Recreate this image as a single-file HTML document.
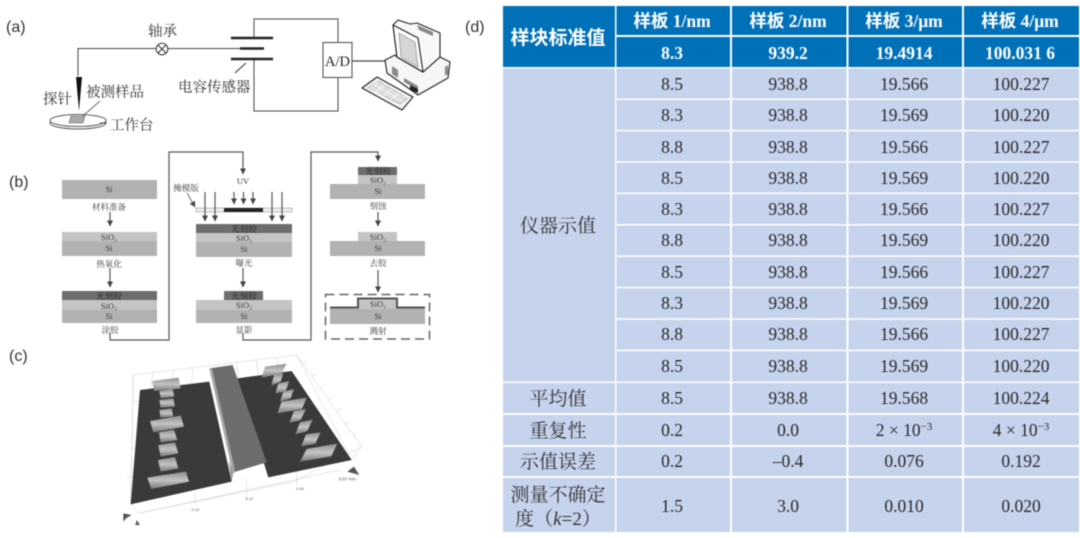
<!DOCTYPE html>
<html><head><meta charset="utf-8"><style>
html,body{margin:0;padding:0;background:#fff;width:1080px;height:538px;overflow:hidden}
svg{position:absolute;left:0;top:0;display:block}
.s{font-family:"Noto Serif CJK SC","Liberation Serif",serif}
.sm{font-family:"Liberation Serif","Noto Serif CJK SC",serif;font-size:8.5px;fill:#3a3a3a;text-anchor:middle}
.lb{font-family:"Liberation Sans",sans-serif;font-size:16px;fill:#333}
.n{font-family:"Liberation Serif","Noto Serif CJK SC",serif;font-size:17.5px;fill:#2a2a2a;text-anchor:middle}
.c{font-family:"Liberation Serif","Noto Serif CJK SC",serif;font-size:19px;fill:#333;text-anchor:middle}
.h{font-family:"Liberation Serif","Noto Sans CJK SC",sans-serif;font-size:17.5px;font-weight:bold;fill:#fff;text-anchor:middle}
.w{fill:none;stroke:#444;stroke-width:1}
.b{fill:none;stroke:#555;stroke-width:1.2}
.si{fill:#b2b2b2}.ox{fill:#c4c4c4}.pr{fill:#6d6d6d}
</style></head><body>
<svg width="1080" height="538" viewBox="0 0 1080 538" xmlns="http://www.w3.org/2000/svg" style="filter:blur(.65px)">
<defs>
<marker id="ar" viewBox="0 0 6 6" refX="5.5" refY="3" markerWidth="6" markerHeight="6" orient="auto" markerUnits="userSpaceOnUse"><path d="M0 0L6 3L0 6Z" fill="#444"/></marker>
<linearGradient id="g" x1="0" y1="0" x2="0" y2="1"><stop offset="0" stop-color="#8f8f8f"/><stop offset=".5" stop-color="#c4c4c4"/><stop offset="1" stop-color="#777"/></linearGradient>
</defs>

<!-- labels -->
<text class="lb" x="6" y="32">(a)</text>
<text class="lb" x="9" y="187">(b)</text>
<text class="lb" x="9" y="361">(c)</text>
<text class="lb" x="465" y="32">(d)</text>

<!-- (a) circuit -->
<path class="w" d="M78 76V48.500H156M168 48.500H240M254 38V19H338V42M338 77V111H254V59"/>
<circle cx="162" cy="49" r="5.800" fill="#fff" stroke="#333"/>
<path d="M158 45L166 53M166 45L158 53" stroke="#333"/>
<path d="M231 38H273M240 48.500H264M231 59H273" stroke="#222" stroke-width="2.500"/>
<path d="M235 73L246 63" stroke="#333"/>
<rect x="323" y="42.500" width="29" height="35" fill="#fff" stroke="#444"/>
<text class="s" x="337.500" y="66" font-size="14.500" fill="#222" text-anchor="middle" style="font-family:'Liberation Serif',serif">A/D</text>
<path d="M352 61H387" stroke="#444" stroke-width="1.200"/>
<path d="M76 77H82L79 111Z" fill="#111"/>
<ellipse cx="78" cy="123" rx="28" ry="6" fill="#fff" stroke="#555"/>
<ellipse cx="78" cy="120.500" rx="28" ry="6" fill="#fff" stroke="#555"/>
<path d="M71 116H85L83 123H69Z" fill="#aaa" stroke="#666" stroke-width=".6"/>
<path d="M83 116L100 101" stroke="#333" stroke-width=".8"/>
<path d="M100 123H106" stroke="#333" stroke-width=".8"/>
<text class="s" x="148" y="36" font-size="14.500" fill="#333">轴承</text>
<text class="s" x="43" y="104" font-size="14.500" fill="#333">探针</text>
<text class="s" x="86" y="97" font-size="14.500" fill="#333">被测样品</text>
<text class="s" x="110" y="130" font-size="14.500" fill="#333">工作台</text>
<text class="s" x="178" y="92" font-size="14.500" fill="#333">电容传感器</text>

<!-- computer -->
<g stroke="#222" stroke-width="1.100" stroke-linejoin="round">
<path d="M385 60L395 55L397 57L423 72L440 57L450 62L448 78L418 95L387 73Z" fill="#f6f6f6"/>
<path d="M393 25L398 20L410 24L417 23L440 33L440 57L423 72L397 57Z" fill="#f8f8f8"/>
<path d="M393 25L418 38L423 72L397 57Z" fill="#fff"/>
<path d="M399 33L415 42L418 67L401 57Z" fill="#d6d6d6" stroke="#888" stroke-width=".7"/>
<path d="M417 25L433 32L433 36L419 30Z" fill="#888" stroke="none"/>
<path d="M392 66L398 70V78L392 74Z M404 78L418 86V90L404 82Z" fill="#888" stroke="none"/>
<path d="M410 85L418 89V93L410 90Z" fill="#222" stroke="none"/>
<path d="M445 67L448 65V74L445 76Z" fill="#888" stroke="none"/>
<path d="M362 88L377 77L413 97L402 110Z" fill="#f2f2f2"/>
<path d="M368 88L378 81L408 98L400 104Z" fill="#dedede" stroke="#999" stroke-width=".6"/>
<path d="M374 84L403 102M380 80L408 98M371 89L398 105M378 81L368 90M385 85L375 93M392 89L382 97M399 93L389 101" fill="none" stroke="#fff" stroke-width=".7"/>
</g>

<!-- (b) blocks -->
<g>
<rect class="si" x="62" y="180" width="95" height="19"/>
<rect class="si" x="62" y="241" width="95" height="15"/><rect class="ox" x="62" y="232" width="95" height="9"/>
<rect class="pr" x="62" y="291" width="95" height="9"/><rect class="ox" x="62" y="300" width="95" height="10"/><rect class="si" x="62" y="310" width="95" height="13"/>

<rect class="pr" x="196" y="224" width="96" height="9"/><rect class="ox" x="196" y="233" width="96" height="9"/><rect class="si" x="196" y="242" width="96" height="15"/>
<rect class="pr" x="224" y="291" width="39" height="9"/><rect class="ox" x="196" y="300" width="96" height="10"/><rect class="si" x="196" y="310" width="96" height="13"/>

<rect class="pr" x="358" y="167" width="39" height="8"/><rect class="ox" x="358" y="175" width="39" height="9"/><rect class="si" x="330" y="184" width="95" height="15"/>
<rect class="ox" x="358" y="232" width="39" height="9"/><rect class="si" x="330" y="241" width="95" height="15"/>
<rect class="si" x="330" y="308" width="95" height="16"/><rect class="ox" x="358" y="298" width="39" height="11"/>
<path d="M330 307.500H358V298.500H397V307.500H425" fill="none" stroke="#555" stroke-width="2"/>
<rect x="325.500" y="294.500" width="104" height="44.500" fill="none" stroke="#666" stroke-width="1.500" stroke-dasharray="9 5"/>

<rect x="196" y="208" width="96" height="4" fill="#eee" stroke="#999" stroke-width=".6"/>
<rect x="224" y="208" width="39" height="4" fill="#222"/>
</g>
<g>
<path class="b" d="M110 212V226" marker-end="url(#ar)"/>
<path class="b" d="M110 268V287" marker-end="url(#ar)"/>
<path class="b" d="M243 268V287" marker-end="url(#ar)"/>
<path class="b" d="M378 212V226" marker-end="url(#ar)"/>
<path class="b" d="M378 270V292" marker-end="url(#ar)"/>
<path class="b" d="M110 333V340H169V152H243V174" marker-end="url(#ar)"/>
<path class="b" d="M243 333V340H311V152H378V161" marker-end="url(#ar)"/>
<path class="b" d="M205 192V221" marker-end="url(#ar)"/>
<path class="b" d="M215 192V221" marker-end="url(#ar)"/>
<path class="b" d="M272 192V221" marker-end="url(#ar)"/>
<path class="b" d="M282 192V221" marker-end="url(#ar)"/>
<path class="b" d="M234 192V204" marker-end="url(#ar)"/>
<path class="b" d="M243.500 192V204" marker-end="url(#ar)"/>
<path class="b" d="M253 192V204" marker-end="url(#ar)"/>
<path class="b" style="stroke-width:.8" d="M187 193L195 207" marker-end="url(#ar)"/>
</g>
<text class="sm" x="109" y="192">Si</text>
<text class="sm" x="109" y="210">材料准备</text>
<text class="sm" x="109" y="240">SiO₂</text><text class="sm" x="109" y="251">Si</text>
<text class="sm" x="109" y="267">热氧化</text>
<text class="sm" x="109" y="299" style="fill:#222">光刻胶</text><text class="sm" x="109" y="309">SiO₂</text><text class="sm" x="109" y="319">Si</text>
<text class="sm" x="110" y="333">涂胶</text>
<text class="sm" x="186" y="191">掩模版</text>
<text class="sm" x="243" y="184">UV</text>
<text class="sm" x="244" y="232" style="fill:#222">光刻胶</text><text class="sm" x="244" y="241">SiO₂</text><text class="sm" x="244" y="252">Si</text>
<text class="sm" x="244" y="266">曝光</text>
<text class="sm" x="244" y="299" style="fill:#222">光刻胶</text><text class="sm" x="244" y="308">SiO₂</text><text class="sm" x="244" y="319">Si</text>
<text class="sm" x="244" y="333">显影</text>
<text class="sm" x="378" y="174" style="fill:#222">光刻胶</text><text class="sm" x="378" y="183">SiO₂</text><text class="sm" x="378" y="194">Si</text>
<text class="sm" x="378" y="209">刻蚀</text>
<text class="sm" x="378" y="240">SiO₂</text><text class="sm" x="378" y="251">Si</text>
<text class="sm" x="378" y="266">去胶</text>
<text class="sm" x="378" y="307">SiO₂</text><text class="sm" x="378" y="319">Si</text>
<text class="sm" x="378" y="334">溅射</text>

<!-- (c) 3D -->
<g transform="translate(90 345) scale(.3333)">
<g stroke="#ccc" stroke-width="1.500" fill="none">
<path d="M130 90L620 30L815 305L610 410L145 505L122 478Z"/>
<path d="M130 90L122 478M620 30L785 345M815 305L785 345"/>
<path d="M190 82L180 130M250 75L245 120M310 68L305 115M560 38L570 80M500 45L505 90M440 52L445 95"/>
<path d="M640 60L650 50M665 95L680 85M690 130L705 120M715 165L730 155M740 200L755 190M765 240L780 230M790 275L800 265"/>
<path d="M315 440L315 480M470 400L470 465M620 370L620 420M125 170L150 170M120 310L140 310M110 395L130 395"/>
<path d="M145 505L750 375"/>
</g>
<path d="M150 135L358 110L425 410L122 478Z" fill="#3a3a3a"/>
<path d="M442 100L605 78L785 345L535 397L525 365Z" fill="#3a3a3a"/>
<path d="M358 70L428 60L530 352L430 382Z" fill="#6d6d6d"/>
<path d="M358 70L366 70L436 382L428 384Z" fill="#a8a8a8"/>
<path d="M415 345L430 382L425 410Z" fill="#999"/>
<g fill="url(#g)">
<path d="M186 108L266 98L272 130L192 138Z"/>
<path d="M208 138L248 132L253 155L212 160Z"/>
<path d="M208 165L250 160L255 185L212 188Z"/>
<path d="M208 195L245 190L250 215L212 218Z"/>
<path d="M180 228L272 212L282 245L190 262Z"/>
<path d="M207 262L252 254L262 285L212 292Z"/>
<path d="M205 300L255 292L265 325L212 335Z"/>
<path d="M204 345L255 336L265 370L212 380Z"/>
<path d="M172 398L288 380L297 410L184 432Z"/>
<path d="M525 65L590 56L575 85L515 98Z"/>
<path d="M552 90L580 85L572 110L544 122Z"/>
<path d="M565 115L598 108L587 138L556 146Z"/>
<path d="M580 140L612 132L602 160L570 170Z"/>
<path d="M575 170L650 158L636 192L562 205Z"/>
<path d="M612 198L648 192L632 225L598 234Z"/>
<path d="M630 232L668 224L652 258L616 268Z"/>
<path d="M648 268L692 262L676 296L634 304Z"/>
<path d="M650 312L742 296L724 334L630 350Z"/>
</g>
<path d="M100 505L125 510L108 520L100 530ZM140 525L150 540H136Z" fill="#555"/>
<path d="M772 380L792 365L808 390Z" fill="#555"/>
<text x="772" y="406" font-size="13" fill="#555" font-family="Liberation Sans,sans-serif" text-anchor="middle">0.67 mm</text>
<text x="630" y="435" font-size="12" fill="#666" font-family="Liberation Sans,sans-serif" text-anchor="middle">0.48</text>
<text x="478" y="465" font-size="12" fill="#666" font-family="Liberation Sans,sans-serif" text-anchor="middle">0.32</text>
<text x="316" y="498" font-size="12" fill="#666" font-family="Liberation Sans,sans-serif" text-anchor="middle">0.16</text>
</g>
</svg>

<svg width="1080" height="538" viewBox="0 0 1080 538" xmlns="http://www.w3.org/2000/svg" style="filter:blur(.45px)">
<!-- (d) table -->
<g fill="#0070b8">
<rect x="503" y="6" width="112" height="61"/>
<rect x="616.500" y="6" width="113.500" height="29"/><rect x="732" y="6" width="114.500" height="29"/><rect x="848.500" y="6" width="113.500" height="29"/><rect x="964" y="6" width="115" height="29"/>
<rect x="616.500" y="37" width="113.500" height="30"/><rect x="732" y="37" width="114.500" height="30"/><rect x="848.500" y="37" width="113.500" height="30"/><rect x="964" y="37" width="115" height="30"/>
</g>
<g fill="#c5d3ec">
<rect x="503" y="68.500" width="112" height="313"/>
<rect x="503" y="383" width="112" height="30"/><rect x="503" y="415" width="112" height="30"/><rect x="503" y="447" width="112" height="29"/><rect x="503" y="478" width="112" height="54"/>
</g>
<path d="M616.500 68.500h113.500v313h-113.500zM732 68.500h114.500v313H732zM848.500 68.500h113.500v313H848.500zM964 68.500h115v313H964z" fill="#c5d3ec"/>
<path d="M616.500 383h113.500v30h-113.500zM732 383h114.500v30H732zM848.500 383h113.500v30H848.500zM964 383h115v30H964zM616.500 415h113.500v30h-113.500zM732 415h114.500v30H732zM848.500 415h113.500v30H848.500zM964 415h115v30H964zM616.500 447h113.500v29h-113.500zM732 447h114.500v29H732zM848.500 447h113.500v29H848.500zM964 447h115v29H964zM616.500 478h113.500v54h-113.500zM732 478h114.500v54H732zM848.500 478h113.500v54H848.500zM964 478h115v54H964z" fill="#c5d3ec"/>
<path d="M616 99.200H1079M616 130.600H1079M616 162H1079M616 193.400H1079M616 224.800H1079M616 256.200H1079M616 287.600H1079M616 319H1079M616 350.400H1079" stroke="#fff" stroke-width="1.600"/>

<text x="558" y="44" class="h" style="font-family:'Noto Sans CJK SC',sans-serif;font-size:19px">样块标准值</text>
<text x="672" y="27" class="h">样板 1/nm</text><text x="788" y="27" class="h">样板 2/nm</text><text x="904" y="27" class="h">样板 3/μm</text><text x="1020" y="27" class="h">样板 4/μm</text>
<text x="672" y="59" class="h">8.3</text><text x="788" y="59" class="h">939.2</text><text x="904" y="59" class="h">19.4914</text><text x="1020" y="59" class="h">100.031 6</text>

<text x="558" y="232" class="c">仪器示值</text>
<g>
<text x="672" y="90" class="n">8.5</text><text x="788" y="90" class="n">938.8</text><text x="904" y="90" class="n">19.566</text><text x="1021" y="90" class="n">100.227</text>
<text x="672" y="121" class="n">8.3</text><text x="788" y="121" class="n">938.8</text><text x="904" y="121" class="n">19.569</text><text x="1021" y="121" class="n">100.220</text>
<text x="672" y="153" class="n">8.8</text><text x="788" y="153" class="n">938.8</text><text x="904" y="153" class="n">19.566</text><text x="1021" y="153" class="n">100.227</text>
<text x="672" y="184" class="n">8.5</text><text x="788" y="184" class="n">938.8</text><text x="904" y="184" class="n">19.569</text><text x="1021" y="184" class="n">100.220</text>
<text x="672" y="215" class="n">8.3</text><text x="788" y="215" class="n">938.8</text><text x="904" y="215" class="n">19.566</text><text x="1021" y="215" class="n">100.227</text>
<text x="672" y="246" class="n">8.8</text><text x="788" y="246" class="n">938.8</text><text x="904" y="246" class="n">19.569</text><text x="1021" y="246" class="n">100.220</text>
<text x="672" y="278" class="n">8.5</text><text x="788" y="278" class="n">938.8</text><text x="904" y="278" class="n">19.566</text><text x="1021" y="278" class="n">100.227</text>
<text x="672" y="309" class="n">8.3</text><text x="788" y="309" class="n">938.8</text><text x="904" y="309" class="n">19.569</text><text x="1021" y="309" class="n">100.220</text>
<text x="672" y="340" class="n">8.8</text><text x="788" y="340" class="n">938.8</text><text x="904" y="340" class="n">19.566</text><text x="1021" y="340" class="n">100.227</text>
<text x="672" y="372" class="n">8.5</text><text x="788" y="372" class="n">938.8</text><text x="904" y="372" class="n">19.569</text><text x="1021" y="372" class="n">100.220</text>
<text x="558" y="405" class="c">平均值</text><text x="672" y="404" class="n">8.5</text><text x="788" y="404" class="n">938.8</text><text x="904" y="404" class="n">19.568</text><text x="1021" y="404" class="n">100.224</text>
<text x="558" y="437" class="c">重复性</text><text x="672" y="436" class="n">0.2</text><text x="788" y="436" class="n">0.0</text><text x="904" y="436" class="n">2 × 10<tspan dy="-6" font-size="11">−3</tspan></text><text x="1021" y="436" class="n">4 × 10<tspan dy="-6" font-size="11">−3</tspan></text>
<text x="558" y="468" class="c">示值误差</text><text x="672" y="467" class="n">0.2</text><text x="788" y="467" class="n">–0.4</text><text x="904" y="467" class="n">0.076</text><text x="1021" y="467" class="n">0.192</text>
<text x="558" y="501" class="c">测量不确定</text><text x="558" y="525" class="c">度（<tspan font-style="italic">k</tspan>=2）</text><text x="672" y="512" class="n">1.5</text><text x="788" y="512" class="n">3.0</text><text x="904" y="512" class="n">0.010</text><text x="1021" y="512" class="n">0.020</text>
</g>
</svg>
</body></html>
